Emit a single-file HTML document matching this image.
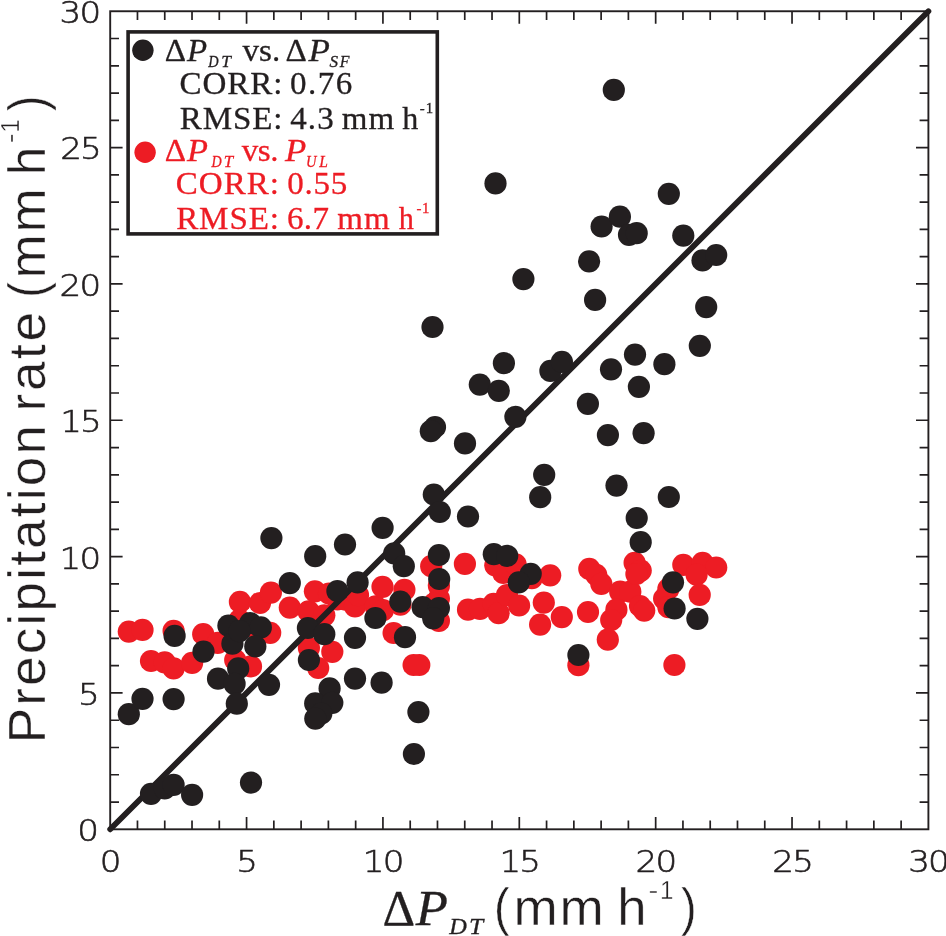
<!DOCTYPE html>
<html><head><meta charset="utf-8"><title>Scatter</title>
<style>
html,body{margin:0;padding:0;background:#fff}
svg{display:block;will-change:transform}
text{fill:#231f20}
.tk{font-family:"DejaVu Sans Light","DejaVu Sans","Liberation Sans",sans-serif;font-weight:200;stroke:#231f20;stroke-width:0.6px}
.ss{font-family:"Liberation Sans",sans-serif;stroke:#fff;stroke-width:0.4px}
.sr{font-family:"Liberation Serif",serif;stroke:#231f20;stroke-width:0.3px}
.it{font-style:italic}
.rd text{fill:#ed1c24;stroke:#ed1c24}
</style></head><body>
<svg width="946" height="936" viewBox="0 0 946 936">
<rect width="946" height="936" fill="#fff"/>

<g fill="#ed1c24">
<circle cx="128.8" cy="631.6" r="11.1"/>
<circle cx="142.5" cy="629.9" r="11.1"/>
<circle cx="173.6" cy="630.8" r="11.1"/>
<circle cx="203.2" cy="634.2" r="11.1"/>
<circle cx="217.7" cy="642.8" r="11.1"/>
<circle cx="151.0" cy="661.0" r="11.1"/>
<circle cx="164.7" cy="662.4" r="11.1"/>
<circle cx="173.6" cy="668.4" r="11.1"/>
<circle cx="192.1" cy="662.9" r="11.1"/>
<circle cx="235.2" cy="660.0" r="11.1"/>
<circle cx="251.0" cy="666.4" r="11.1"/>
<circle cx="239.9" cy="601.9" r="11.1"/>
<circle cx="260.0" cy="603.0" r="11.1"/>
<circle cx="270.9" cy="592.6" r="11.1"/>
<circle cx="289.8" cy="607.6" r="11.1"/>
<circle cx="308.6" cy="611.4" r="11.1"/>
<circle cx="314.9" cy="591.3" r="11.1"/>
<circle cx="324.3" cy="615.3" r="11.1"/>
<circle cx="337.4" cy="599.3" r="11.1"/>
<circle cx="345.7" cy="599.7" r="11.1"/>
<circle cx="355.0" cy="606.3" r="11.1"/>
<circle cx="358.0" cy="595.2" r="11.1"/>
<circle cx="270.2" cy="632.8" r="11.1"/>
<circle cx="239.5" cy="620.0" r="11.1"/>
<circle cx="250.2" cy="626.0" r="11.1"/>
<circle cx="308.9" cy="648.0" r="11.1"/>
<circle cx="332.3" cy="651.8" r="11.1"/>
<circle cx="318.2" cy="668.0" r="11.1"/>
<circle cx="375.6" cy="606.3" r="11.1"/>
<circle cx="382.5" cy="586.8" r="11.1"/>
<circle cx="404.4" cy="589.8" r="11.1"/>
<circle cx="382.9" cy="610.2" r="11.1"/>
<circle cx="400.4" cy="604.7" r="11.1"/>
<circle cx="393.6" cy="633.0" r="11.1"/>
<circle cx="431.2" cy="566.2" r="11.1"/>
<circle cx="438.9" cy="585.8" r="11.1"/>
<circle cx="464.9" cy="563.9" r="11.1"/>
<circle cx="438.9" cy="598.6" r="11.1"/>
<circle cx="433.8" cy="603.8" r="11.1"/>
<circle cx="438.9" cy="620.9" r="11.1"/>
<circle cx="468.0" cy="609.7" r="11.1"/>
<circle cx="480.0" cy="608.9" r="11.1"/>
<circle cx="493.6" cy="603.8" r="11.1"/>
<circle cx="498.6" cy="613.2" r="11.1"/>
<circle cx="507.0" cy="595.2" r="11.1"/>
<circle cx="495.3" cy="565.3" r="11.1"/>
<circle cx="503.3" cy="573.0" r="11.1"/>
<circle cx="413.6" cy="665.0" r="11.1"/>
<circle cx="419.3" cy="665.0" r="11.1"/>
<circle cx="515.6" cy="564.4" r="11.1"/>
<circle cx="550.2" cy="575.3" r="11.1"/>
<circle cx="531.9" cy="578.1" r="11.1"/>
<circle cx="519.1" cy="605.5" r="11.1"/>
<circle cx="543.8" cy="602.6" r="11.1"/>
<circle cx="540.1" cy="624.6" r="11.1"/>
<circle cx="561.8" cy="617.1" r="11.1"/>
<circle cx="588.0" cy="612.0" r="11.1"/>
<circle cx="589.3" cy="568.9" r="11.1"/>
<circle cx="596.2" cy="574.8" r="11.1"/>
<circle cx="601.3" cy="583.8" r="11.1"/>
<circle cx="620.2" cy="591.7" r="11.1"/>
<circle cx="630.3" cy="591.7" r="11.1"/>
<circle cx="616.4" cy="609.7" r="11.1"/>
<circle cx="611.2" cy="620.0" r="11.1"/>
<circle cx="607.8" cy="639.7" r="11.1"/>
<circle cx="578.4" cy="665.2" r="11.1"/>
<circle cx="634.6" cy="562.8" r="11.1"/>
<circle cx="640.7" cy="570.6" r="11.1"/>
<circle cx="636.4" cy="574.0" r="11.1"/>
<circle cx="640.0" cy="606.0" r="11.1"/>
<circle cx="644.2" cy="610.6" r="11.1"/>
<circle cx="674.4" cy="665.0" r="11.1"/>
<circle cx="683.3" cy="564.8" r="11.1"/>
<circle cx="702.6" cy="562.8" r="11.1"/>
<circle cx="716.2" cy="567.5" r="11.1"/>
<circle cx="696.6" cy="574.7" r="11.1"/>
<circle cx="699.7" cy="594.9" r="11.1"/>
<circle cx="668.4" cy="588.9" r="11.1"/>
<circle cx="664.1" cy="598.6" r="11.1"/>
<circle cx="668.4" cy="607.2" r="11.1"/>
<circle cx="329.0" cy="593.5" r="11.1"/>
</g>
<rect x="110.20" y="11.25" width="818.20" height="818.05" fill="none" stroke="#231f20" stroke-width="1.9"/>
<path d="M137.47 829.30v-8.8M137.47 11.25v8.8M110.20 802.03h8.8M928.40 802.03h-8.8M164.75 829.30v-8.8M164.75 11.25v8.8M110.20 774.76h8.8M928.40 774.76h-8.8M192.02 829.30v-8.8M192.02 11.25v8.8M110.20 747.50h8.8M928.40 747.50h-8.8M219.29 829.30v-8.8M219.29 11.25v8.8M110.20 720.23h8.8M928.40 720.23h-8.8M246.57 829.30v-12.4M246.57 11.25v12.4M110.20 692.96h12.4M928.40 692.96h-12.4M273.84 829.30v-8.8M273.84 11.25v8.8M110.20 665.69h8.8M928.40 665.69h-8.8M301.11 829.30v-8.8M301.11 11.25v8.8M110.20 638.42h8.8M928.40 638.42h-8.8M328.39 829.30v-8.8M328.39 11.25v8.8M110.20 611.15h8.8M928.40 611.15h-8.8M355.66 829.30v-8.8M355.66 11.25v8.8M110.20 583.88h8.8M928.40 583.88h-8.8M382.93 829.30v-12.4M382.93 11.25v12.4M110.20 556.62h12.4M928.40 556.62h-12.4M410.21 829.30v-8.8M410.21 11.25v8.8M110.20 529.35h8.8M928.40 529.35h-8.8M437.48 829.30v-8.8M437.48 11.25v8.8M110.20 502.08h8.8M928.40 502.08h-8.8M464.75 829.30v-8.8M464.75 11.25v8.8M110.20 474.81h8.8M928.40 474.81h-8.8M492.03 829.30v-8.8M492.03 11.25v8.8M110.20 447.54h8.8M928.40 447.54h-8.8M519.30 829.30v-12.4M519.30 11.25v12.4M110.20 420.27h12.4M928.40 420.27h-12.4M546.57 829.30v-8.8M546.57 11.25v8.8M110.20 393.01h8.8M928.40 393.01h-8.8M573.85 829.30v-8.8M573.85 11.25v8.8M110.20 365.74h8.8M928.40 365.74h-8.8M601.12 829.30v-8.8M601.12 11.25v8.8M110.20 338.47h8.8M928.40 338.47h-8.8M628.39 829.30v-8.8M628.39 11.25v8.8M110.20 311.20h8.8M928.40 311.20h-8.8M655.67 829.30v-12.4M655.67 11.25v12.4M110.20 283.93h12.4M928.40 283.93h-12.4M682.94 829.30v-8.8M682.94 11.25v8.8M110.20 256.66h8.8M928.40 256.66h-8.8M710.21 829.30v-8.8M710.21 11.25v8.8M110.20 229.40h8.8M928.40 229.40h-8.8M737.49 829.30v-8.8M737.49 11.25v8.8M110.20 202.13h8.8M928.40 202.13h-8.8M764.76 829.30v-8.8M764.76 11.25v8.8M110.20 174.86h8.8M928.40 174.86h-8.8M792.03 829.30v-12.4M792.03 11.25v12.4M110.20 147.59h12.4M928.40 147.59h-12.4M819.31 829.30v-8.8M819.31 11.25v8.8M110.20 120.32h8.8M928.40 120.32h-8.8M846.58 829.30v-8.8M846.58 11.25v8.8M110.20 93.06h8.8M928.40 93.06h-8.8M873.85 829.30v-8.8M873.85 11.25v8.8M110.20 65.79h8.8M928.40 65.79h-8.8M901.13 829.30v-8.8M901.13 11.25v8.8M110.20 38.52h8.8M928.40 38.52h-8.8" stroke="#231f20" stroke-width="1.7" fill="none"/>
<line x1="110.20" y1="829.30" x2="928.40" y2="11.25" stroke="#231f20" stroke-width="5.8" stroke-linecap="round"/>
<g fill="#231f20">
<circle cx="128.8" cy="714.2" r="11.1"/>
<circle cx="142.5" cy="698.8" r="11.1"/>
<circle cx="173.6" cy="699.1" r="11.1"/>
<circle cx="174.6" cy="635.9" r="11.1"/>
<circle cx="203.5" cy="651.6" r="11.1"/>
<circle cx="218.0" cy="678.7" r="11.1"/>
<circle cx="238.2" cy="668.4" r="11.1"/>
<circle cx="234.6" cy="683.8" r="11.1"/>
<circle cx="236.8" cy="703.7" r="11.1"/>
<circle cx="228.4" cy="625.7" r="11.1"/>
<circle cx="250.2" cy="623.1" r="11.1"/>
<circle cx="260.8" cy="627.4" r="11.1"/>
<circle cx="232.4" cy="643.7" r="11.1"/>
<circle cx="255.3" cy="646.4" r="11.1"/>
<circle cx="269.0" cy="684.8" r="11.1"/>
<circle cx="289.8" cy="583.1" r="11.1"/>
<circle cx="315.2" cy="556.2" r="11.1"/>
<circle cx="337.4" cy="591.0" r="11.1"/>
<circle cx="357.6" cy="582.4" r="11.1"/>
<circle cx="307.9" cy="628.0" r="11.1"/>
<circle cx="324.3" cy="634.2" r="11.1"/>
<circle cx="308.9" cy="660.0" r="11.1"/>
<circle cx="355.0" cy="637.8" r="11.1"/>
<circle cx="355.0" cy="678.6" r="11.1"/>
<circle cx="329.6" cy="688.4" r="11.1"/>
<circle cx="315.2" cy="703.4" r="11.1"/>
<circle cx="332.3" cy="702.8" r="11.1"/>
<circle cx="321.3" cy="713.5" r="11.1"/>
<circle cx="315.3" cy="718.6" r="11.1"/>
<circle cx="375.4" cy="618.0" r="11.1"/>
<circle cx="271.4" cy="538.1" r="11.1"/>
<circle cx="345.0" cy="544.5" r="11.1"/>
<circle cx="382.6" cy="527.8" r="11.1"/>
<circle cx="394.2" cy="553.4" r="11.1"/>
<circle cx="403.8" cy="566.2" r="11.1"/>
<circle cx="400.3" cy="601.6" r="11.1"/>
<circle cx="405.0" cy="637.2" r="11.1"/>
<circle cx="381.6" cy="682.7" r="11.1"/>
<circle cx="418.4" cy="712.1" r="11.1"/>
<circle cx="413.9" cy="754.0" r="11.1"/>
<circle cx="422.6" cy="607.2" r="11.1"/>
<circle cx="438.9" cy="608.0" r="11.1"/>
<circle cx="433.2" cy="618.3" r="11.1"/>
<circle cx="438.9" cy="555.0" r="11.1"/>
<circle cx="439.2" cy="579.0" r="11.1"/>
<circle cx="433.8" cy="494.5" r="11.1"/>
<circle cx="439.8" cy="512.0" r="11.1"/>
<circle cx="468.0" cy="516.5" r="11.1"/>
<circle cx="432.5" cy="327.0" r="11.1"/>
<circle cx="435.0" cy="427.0" r="11.1"/>
<circle cx="430.8" cy="431.2" r="11.1"/>
<circle cx="465.0" cy="443.4" r="11.1"/>
<circle cx="479.8" cy="384.6" r="11.1"/>
<circle cx="498.8" cy="390.8" r="11.1"/>
<circle cx="503.9" cy="363.2" r="11.1"/>
<circle cx="515.4" cy="416.8" r="11.1"/>
<circle cx="523.4" cy="279.1" r="11.1"/>
<circle cx="495.5" cy="183.4" r="11.1"/>
<circle cx="493.8" cy="554.2" r="11.1"/>
<circle cx="507.2" cy="555.8" r="11.1"/>
<circle cx="530.7" cy="573.8" r="11.1"/>
<circle cx="518.7" cy="582.4" r="11.1"/>
<circle cx="544.2" cy="474.8" r="11.1"/>
<circle cx="540.2" cy="497.2" r="11.1"/>
<circle cx="550.4" cy="370.9" r="11.1"/>
<circle cx="561.9" cy="361.9" r="11.1"/>
<circle cx="578.4" cy="655.0" r="11.1"/>
<circle cx="587.9" cy="403.8" r="11.1"/>
<circle cx="589.1" cy="261.3" r="11.1"/>
<circle cx="595.1" cy="299.9" r="11.1"/>
<circle cx="601.6" cy="226.5" r="11.1"/>
<circle cx="607.9" cy="435.1" r="11.1"/>
<circle cx="611.0" cy="369.3" r="11.1"/>
<circle cx="613.8" cy="89.9" r="11.1"/>
<circle cx="616.5" cy="485.6" r="11.1"/>
<circle cx="619.9" cy="216.7" r="11.1"/>
<circle cx="629.0" cy="234.8" r="11.1"/>
<circle cx="636.7" cy="233.2" r="11.1"/>
<circle cx="635.0" cy="354.6" r="11.1"/>
<circle cx="638.9" cy="386.8" r="11.1"/>
<circle cx="636.7" cy="518.0" r="11.1"/>
<circle cx="640.7" cy="542.2" r="11.1"/>
<circle cx="643.6" cy="433.2" r="11.1"/>
<circle cx="664.4" cy="364.2" r="11.1"/>
<circle cx="668.8" cy="193.8" r="11.1"/>
<circle cx="668.8" cy="497.0" r="11.1"/>
<circle cx="673.0" cy="582.3" r="11.1"/>
<circle cx="674.6" cy="608.5" r="11.1"/>
<circle cx="683.3" cy="235.6" r="11.1"/>
<circle cx="697.4" cy="618.8" r="11.1"/>
<circle cx="699.8" cy="345.8" r="11.1"/>
<circle cx="702.5" cy="260.4" r="11.1"/>
<circle cx="706.2" cy="307.1" r="11.1"/>
<circle cx="716.2" cy="255.0" r="11.1"/>
<circle cx="151.0" cy="793.8" r="11.1"/>
<circle cx="164.7" cy="788.3" r="11.1"/>
<circle cx="173.6" cy="784.9" r="11.1"/>
<circle cx="192.1" cy="794.8" r="11.1"/>
<circle cx="251.0" cy="782.6" r="11.1"/>
<circle cx="239.5" cy="631.2" r="11.1"/>
</g>
<text class="tk" font-size="31px" transform="translate(77.27 841.20) scale(1.1000 1)">0</text>
<text class="tk" font-size="31px" transform="translate(77.90 704.86) scale(1.1000 1)">5</text>
<text class="tk" font-size="31px" transform="translate(59.53 568.52) scale(1.1000 1)" letter-spacing="-1.60">10</text>
<text class="tk" font-size="31px" transform="translate(60.17 432.17) scale(1.1000 1)" letter-spacing="-1.60">15</text>
<text class="tk" font-size="31px" transform="translate(59.53 295.83) scale(1.1000 1)" letter-spacing="-1.60">20</text>
<text class="tk" font-size="31px" transform="translate(60.17 159.49) scale(1.1000 1)" letter-spacing="-1.60">25</text>
<text class="tk" font-size="31px" transform="translate(59.53 23.15) scale(1.1000 1)" letter-spacing="-1.60">30</text>
<text class="tk" font-size="31px" transform="translate(99.71 871.50) scale(1.1000 1)">0</text>
<text class="tk" font-size="31px" transform="translate(236.24 871.50) scale(1.1000 1)">5</text>
<text class="tk" font-size="31px" transform="translate(362.73 871.50) scale(1.1000 1)" letter-spacing="-1.60">10</text>
<text class="tk" font-size="31px" transform="translate(499.41 871.50) scale(1.1000 1)" letter-spacing="-1.60">15</text>
<text class="tk" font-size="31px" transform="translate(635.55 871.50) scale(1.1000 1)" letter-spacing="-1.60">20</text>
<text class="tk" font-size="31px" transform="translate(772.23 871.50) scale(1.1000 1)" letter-spacing="-1.60">25</text>
<text class="tk" font-size="31px" transform="translate(908.17 871.50) scale(1.1000 1)" letter-spacing="-1.60">30</text>
<rect x="128.1" y="31.9" width="309.2" height="202" fill="#fff" stroke="#231f20" stroke-width="3.6"/>
<circle cx="142.9" cy="50.3" r="10.7" fill="#231f20"/>
<circle cx="145.1" cy="152.2" r="10.7" fill="#ed1c24"/>
<g>
<text class="sr" font-size="31.2px" transform="translate(164.84 60.50) scale(1.0620 1)">Δ</text>
<text class="sr it" font-size="31.2px" transform="translate(186.88 60.50) scale(1.0579 1)">P</text>
<text class="sr it" font-size="16px" transform="translate(208.26 66.70) scale(0.8963 1)">D</text>
<text class="sr it" font-size="16px" transform="translate(221.36 66.70) scale(1.0913 1)">T</text>
<text class="sr" font-size="31.2px" transform="translate(242.50 60.50) scale(1.0600 1)" letter-spacing="0.05">vs.</text>
<text class="sr" font-size="31.2px" transform="translate(285.44 60.50) scale(1.0620 1)">Δ</text>
<text class="sr it" font-size="31.2px" transform="translate(308.39 60.50) scale(1.1229 1)">P</text>
<text class="sr it" font-size="16px" transform="translate(329.60 66.70) scale(1.0722 1)">S</text>
<text class="sr it" font-size="16px" transform="translate(339.79 66.70) scale(0.9908 1)">F</text>
<text class="sr" font-size="31.2px" transform="translate(179.44 93.60) scale(1.0600 1)" letter-spacing="0.89">CORR:</text>
<text class="sr" font-size="31.2px" transform="translate(289.94 93.60) scale(1.0600 1)" letter-spacing="1.44">0.76</text>
<text class="sr" font-size="31.2px" transform="translate(179.85 128.50) scale(1.0600 1)" letter-spacing="0.80">RMSE:</text>
<text class="sr" font-size="31.2px" transform="translate(290.15 128.50) scale(1.0600 1)" letter-spacing="1.08">4.3</text>
<text class="sr" font-size="31.2px" transform="translate(341.71 128.50) scale(1.0600 1)" letter-spacing="0.91">mm</text>
<text class="sr" font-size="31.2px" transform="translate(402.29 128.50) scale(1.0280 1)">h</text>
<text class="sr" font-size="14px" transform="translate(419.65 112.50) scale(1.0600 1)" letter-spacing="1.02">-1</text>
</g>
<g class="rd">
<text class="sr" font-size="31.2px" transform="translate(164.84 161.00) scale(1.0620 1)">Δ</text>
<text class="sr it" font-size="31.2px" transform="translate(186.88 161.00) scale(1.1013 1)">P</text>
<text class="sr it" font-size="16px" transform="translate(211.46 166.50) scale(0.8789 1)">D</text>
<text class="sr it" font-size="16px" transform="translate(223.69 166.50) scale(1.0572 1)">T</text>
<text class="sr" font-size="31.2px" transform="translate(241.70 161.00) scale(1.0600 1)" letter-spacing="-0.37">vs.</text>
<text class="sr it" font-size="31.2px" transform="translate(285.09 161.00) scale(1.1175 1)">P</text>
<text class="sr it" font-size="16px" transform="translate(305.97 166.50) scale(0.9039 1)">U</text>
<text class="sr it" font-size="16px" transform="translate(319.18 166.50) scale(0.9726 1)">L</text>
<text class="sr" font-size="31.2px" transform="translate(175.74 194.30) scale(1.0600 1)" letter-spacing="0.96">CORR:</text>
<text class="sr" font-size="31.2px" transform="translate(287.24 194.30) scale(1.0600 1)" letter-spacing="0.68">0.55</text>
<text class="sr" font-size="31.2px" transform="translate(176.15 228.60) scale(1.0600 1)" letter-spacing="0.87">RMSE:</text>
<text class="sr" font-size="31.2px" transform="translate(287.08 228.60) scale(1.0600 1)" letter-spacing="0.25">6.7</text>
<text class="sr" font-size="31.2px" transform="translate(337.21 228.60) scale(1.0600 1)" letter-spacing="0.91">mm</text>
<text class="sr" font-size="31.2px" transform="translate(398.71 228.60) scale(0.9675 1)">h</text>
<text class="sr" font-size="14px" transform="translate(416.45 212.70) scale(1.0600 1)" letter-spacing="0.64">-1</text>
</g>
<g>
<text class="sr" font-size="50px" transform="translate(382.47 925.00) scale(1.0152 1)">Δ</text>
<text class="sr it" font-size="50px" transform="translate(415.78 925.00) scale(1.0528 1)">P</text>
<text class="sr it" font-size="22.6px" transform="translate(449.37 933.90) scale(1.0781 1)">D</text>
<text class="sr it" font-size="22.6px" transform="translate(469.03 933.90) scale(1.1267 1)">T</text>
<text class="ss" font-size="51.5px" transform="translate(494.10 924.90) scale(0.9081 1)">(</text>
<text class="ss" font-size="51.5px" transform="translate(513.38 924.90) scale(1.0300 1)" letter-spacing="1.79">mm</text>
<text class="ss" font-size="51.5px" transform="translate(617.25 924.90) scale(1.0218 1)">h</text>
<text class="ss" font-size="25px" transform="translate(648.59 899.00) scale(1.1796 1)">-</text>
<text class="ss" font-size="25px" transform="translate(660.06 899.00) scale(0.9649 1)">1</text>
<text class="ss" font-size="51.5px" transform="translate(680.93 924.90) scale(0.9081 1)">)</text>
<text class="ss" font-size="51.5px" transform="translate(45.00 743.35) rotate(-90) scale(1.0300 1)" letter-spacing="2.14">Precipitation</text>
<text class="ss" font-size="51.5px" transform="translate(45.00 411.42) rotate(-90) scale(1.0300 1)" letter-spacing="2.58">rate</text>
<text class="ss" font-size="51.5px" transform="translate(45.00 297.53) rotate(-90) scale(0.8862 1)">(</text>
<text class="ss" font-size="51.5px" transform="translate(45.00 278.42) rotate(-90) scale(1.0300 1)" letter-spacing="1.69">mm</text>
<text class="ss" font-size="51.5px" transform="translate(45.00 175.25) rotate(-90) scale(0.9942 1)">h</text>
<text class="ss" font-size="25px" transform="translate(18.90 143.21) rotate(-90) scale(1.1796 1)">-</text>
<text class="ss" font-size="25px" transform="translate(18.90 132.54) rotate(-90) scale(0.9649 1)">1</text>
<text class="ss" font-size="51.5px" transform="translate(45.00 110.97) rotate(-90) scale(0.8935 1)">)</text>
</g>
</svg></body></html>
